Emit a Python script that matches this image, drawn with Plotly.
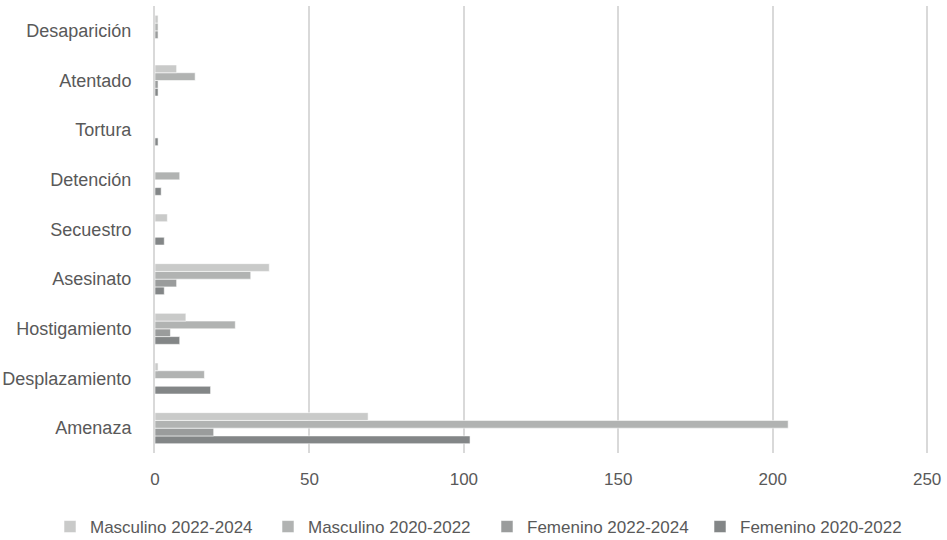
import plotly.graph_objects as go

# Tipos de hecho (de abajo hacia arriba en el eje de categorías)
categorias = ["Amenaza", "Desplazamiento", "Hostigamiento", "Asesinato", "Secuestro",
              "Detención", "Tortura", "Atentado", "Desaparición"]

masculino_2022_2024 = [69, 1, 10, 37, 4, 0, 0, 7, 1]
masculino_2020_2022 = [205, 16, 26, 31, 0, 8, 0, 13, 1]
femenino_2022_2024 = [19, 0, 5, 7, 0, 0, 0, 1, 1]
femenino_2020_2022 = [102, 18, 8, 3, 3, 2, 1, 1, 0]

x_ticks = [0, 50, 100, 150, 200, 250]

# Series en orden de dibujo: la primera queda abajo dentro de cada grupo.
# Cada serie tiene su propia leyenda para fijar la posición de cada entrada.
series = [
    ("Femenino 2020-2022", femenino_2020_2022, "#838687", "legend4", 700),
    ("Femenino 2022-2024", femenino_2022_2024, "#9a9c9c", "legend3", 487),
    ("Masculino 2020-2022", masculino_2020_2022, "#b1b3b2", "legend2", 268),
    ("Masculino 2022-2024", masculino_2022_2024, "#c9cac9", "legend", 50),
]

W, H = 947, 540
font_main = "Liberation Sans, Arial, sans-serif"

fig = go.Figure()
legend_layouts = {}
for nombre, valores, color, leyenda, x_px in series:
    fig.add_trace(go.Bar(
        y=categorias,
        x=valores,
        name=nombre,
        orientation="h",
        legend=leyenda,
        marker=dict(color=color, line=dict(color="rgba(255,255,255,0.55)", width=1)),
    ))
    legend_layouts[leyenda] = dict(
        orientation="h",
        xref="container",
        yref="container",
        x=x_px / W,
        xanchor="left",
        y=1 - 527 / H,
        yanchor="middle",
        font=dict(family=font_main, size=17, color="#595959"),
        itemwidth=30,
        bgcolor="rgba(0,0,0,0)",
    )

fig.update_layout(
    width=W,
    height=H,
    margin=dict(l=155, r=18, t=6, b=87, autoexpand=False),
    paper_bgcolor="white",
    plot_bgcolor="white",
    barmode="group",
    bargap=0.375,
    bargroupgap=0,
    font=dict(family=font_main, size=18, color="#595959"),
    showlegend=True,
    xaxis=dict(
        range=[0, 250.6],
        tickvals=x_ticks,
        showgrid=True,
        gridcolor="#d9d9d9",
        gridwidth=2,
        zeroline=False,
        showline=False,
        ticks="",
        ticklabelstandoff=14,
        tickfont=dict(size=17),
        automargin=False,
        fixedrange=True,
    ),
    yaxis=dict(
        categoryorder="array",
        categoryarray=categorias,
        showgrid=False,
        showline=True,
        linecolor="#d9d9d9",
        linewidth=2,
        ticks="",
        ticklabelstandoff=18,
        automargin=False,
        fixedrange=True,
    ),
    **legend_layouts,
)

fig.write_html("out.html")
